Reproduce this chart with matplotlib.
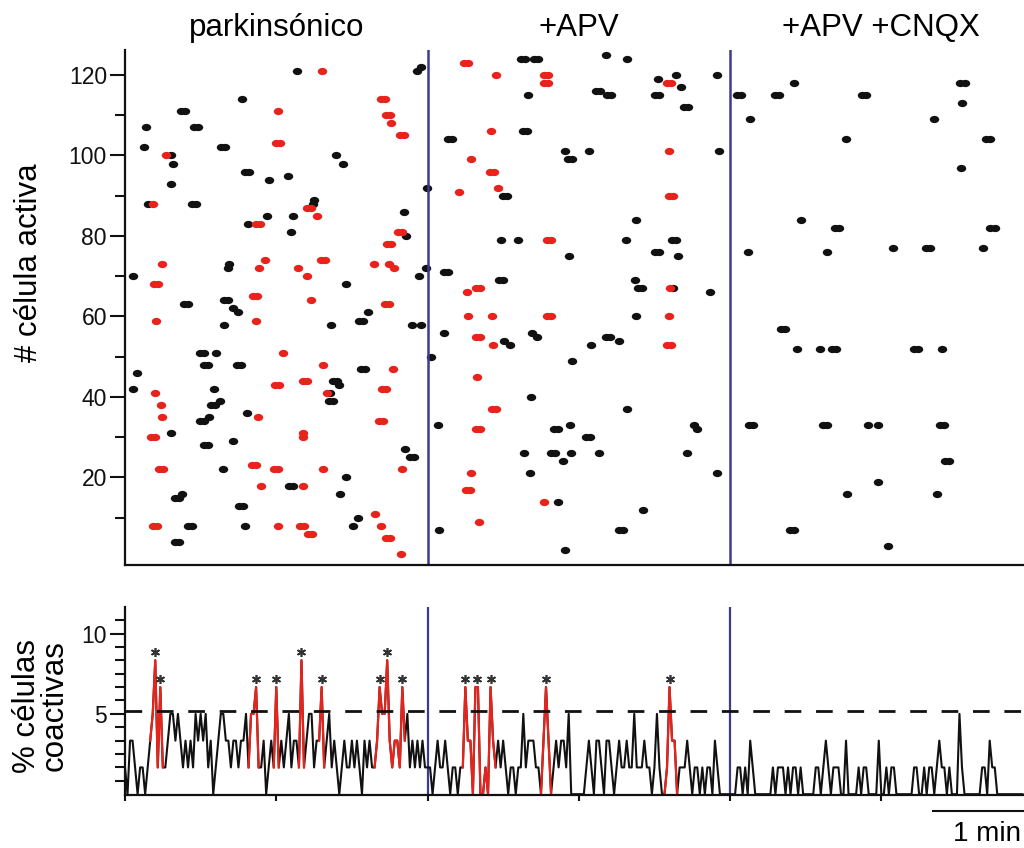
import matplotlib
matplotlib.use('Agg')
import matplotlib.pyplot as plt
import matplotlib.transforms as mtransforms
from matplotlib.path import Path
import numpy as np

plt.rcParams['font.family'] = ['Liberation Sans', 'DejaVu Sans']

# conditions and the times (s) where they change
conditions = ['parkinsónico', '+APV', '+APV +CNQX']
condition_centers = [60, 180, 300]
condition_changes = [120, 240]

# raster: (time in s, cell number); double dots are two consecutive events
black_spikes = [
    # parkinsonico
    (3.3, 70), (3.3, 42), (4.6, 46), (7.7, 102), (8.3, 107), (9.3, 88),
    (18.1, 100), (18.1, 93), (18.2, 31), (19.2, 98), (19.7, 15), (21.3, 15), (22.5, 16),
    (19.7, 4), (21.3, 4), (22.3, 111), (23.9, 111), (23.3, 63), (24.9, 63), (25.0, 8),
    (26.6, 8), (26.7, 88), (28.3, 88), (27.4, 107), (29.0, 107), (29.6, 51), (31.2, 51),
    (29.6, 34), (31.2, 34), (33.4, 35), (31.3, 48), (32.9, 48), (31.3, 28), (32.9, 28),
    (34.2, 38), (35.8, 38), (37.7, 39), (35.2, 42), (36.1, 51), (38.0, 102), (39.6, 102),
    (39.3, 64), (40.9, 64), (39.4, 58), (39.0, 22), (41.0, 72), (41.4, 73), (43.0, 62),
    (45.0, 61), (43.0, 29), (44.4, 48), (46.0, 48), (45.2, 13), (46.8, 13), (46.3, 114),
    (47.6, 8), (47.7, 96), (49.3, 96), (48.5, 36), (48.7, 83), (56.5, 85), (57.3, 94),
    (64.8, 95), (64.9, 18), (66.5, 18), (65.7, 81), (66.8, 85), (68.1, 121), (74.7, 88),
    (75.0, 89), (80.9, 39), (82.5, 39), (81.3, 41), (81.7, 58), (82.5, 44), (84.0, 44),
    (85.0, 43), (83.6, 100), (85.3, 16), (86.4, 98), (87.5, 68), (87.7, 20), (90.6, 8),
    (92.6, 10), (92.8, 59), (94.4, 59), (93.5, 47), (95.1, 47), (96.5, 61), (110.8, 86),
    (111.1, 27), (111.3, 80), (113.2, 25), (114.8, 25), (113.7, 58), (117.4, 58),
    (115.7, 121), (117.3, 122), (116.6, 70), (119.4, 72), (119.9, 92),
    # +APV
    (121.5, 50), (124.3, 33), (124.7, 7), (126.5, 56), (126.5, 71), (128.1, 71),
    (128.1, 104), (129.7, 104), (148.4, 69), (150.0, 69), (149.2, 79), (149.9, 90),
    (151.5, 90), (150.5, 54), (152.7, 53), (156.0, 79), (157.2, 124), (158.8, 124),
    (158.0, 106), (159.6, 106), (158.3, 26), (160.0, 115), (160.7, 21), (161.0, 40),
    (161.5, 56), (163.6, 55), (162.2, 124), (163.8, 124), (169.1, 26), (170.7, 26),
    (170.2, 32), (171.8, 32), (171.9, 14), (173.6, 24), (174.5, 101), (174.5, 2),
    (175.7, 99), (177.3, 99), (176.3, 75), (176.5, 33), (176.8, 26), (177.2, 49),
    (183.0, 30), (184.6, 30), (184.1, 101), (184.9, 53), (187.0, 116), (188.6, 116),
    (187.9, 26), (190.7, 55), (192.3, 55), (190.8, 125), (191.3, 115), (192.9, 115),
    (195.8, 7), (197.4, 7), (196.1, 54), (198.6, 79), (199.0, 124), (199.3, 37),
    (202.3, 69), (203.5, 67), (205.0, 67), (202.6, 84), (202.6, 60), (205.6, 12),
    (210.1, 76), (211.7, 76), (210.4, 115), (212.0, 115), (211.6, 119), (217.5, 67),
    (217.0, 79), (218.6, 79), (218.4, 120), (219.5, 75), (220.6, 117), (221.6, 112),
    (223.2, 112), (223.1, 26), (225.7, 33), (227.0, 32), (232.1, 66), (234.7, 120),
    (234.7, 21), (235.6, 101),
    # +APV +CNQX
    (242.8, 115), (244.4, 115), (247.1, 76), (247.9, 109), (247.7, 33), (249.3, 33),
    (258.0, 115), (259.6, 115), (260.2, 57), (261.8, 57), (263.7, 7), (265.3, 7),
    (265.4, 118), (266.7, 52), (268.0, 84), (275.6, 52), (276.8, 33), (278.4, 33),
    (278.4, 76), (280.5, 52), (282.1, 52), (281.8, 82), (283.4, 82), (285.9, 104),
    (286.2, 16), (292.4, 115), (294.0, 115), (294.7, 33), (298.7, 33), (298.8, 19),
    (302.8, 3), (304.7, 77), (313.1, 52), (314.7, 52), (317.7, 77), (319.3, 77),
    (320.9, 109), (322.2, 16), (323.4, 33), (325.0, 33), (324.2, 52), (325.4, 24),
    (327.0, 24), (331.4, 118), (333.0, 118), (331.9, 113), (331.5, 97), (340.4, 77),
    (341.5, 104), (343.1, 104), (343.3, 82), (344.9, 82),
]

# events that belong to significant coactivity peaks
red_spikes = [
    (10.4, 30), (12.0, 30), (11.0, 88), (11.1, 8), (12.7, 8), (11.5, 68), (13.1, 68),
    (12.0, 41), (12.3, 59), (13.5, 22), (15.1, 22), (14.3, 38), (14.6, 35), (14.8, 73),
    (16.3, 100), (50.4, 23), (52.0, 23), (50.8, 65), (52.4, 65), (51.8, 59), (52.1, 83),
    (53.7, 83), (52.6, 35), (53.0, 72), (53.8, 18), (55.4, 74), (59.0, 22), (60.6, 22),
    (59.4, 43), (61.0, 43), (60.0, 103), (61.6, 103), (60.8, 111), (60.8, 8), (62.6, 51),
    (68.8, 72), (69.5, 8), (71.1, 8), (70.5, 18), (70.6, 44), (72.2, 44), (70.7, 31),
    (70.7, 30), (72.1, 70), (72.3, 87), (73.9, 87), (72.6, 6), (74.2, 6), (73.8, 64),
    (76.3, 85), (77.6, 74), (79.2, 74), (78.0, 121), (78.7, 48), (78.7, 22), (80.0, 41),
    (98.9, 73), (99.2, 11), (100.8, 34), (102.4, 34), (101.6, 8), (101.7, 114),
    (103.3, 114), (101.9, 42), (103.5, 42), (103.0, 63), (104.6, 63), (103.4, 110),
    (105.0, 110), (103.4, 5), (105.0, 5), (103.9, 78), (105.5, 78), (104.9, 73),
    (106.7, 72), (105.5, 108), (106.4, 47), (108.3, 81), (109.9, 81), (109.2, 105),
    (110.8, 105), (109.5, 1), (109.7, 22),
    (132.5, 91), (134.3, 123), (135.9, 123), (135.1, 17), (136.7, 17), (135.5, 66),
    (135.9, 60), (137.1, 99), (137.3, 21), (139.1, 67), (140.7, 67), (139.1, 55),
    (140.7, 55), (139.1, 32), (140.7, 32), (139.5, 45), (140.3, 9), (144.7, 96),
    (146.3, 96), (145.1, 106), (145.5, 60), (146.1, 53), (145.6, 37), (147.2, 37),
    (147.2, 120), (147.8, 92), (166.2, 120), (167.8, 120), (166.2, 118), (167.8, 118),
    (166.2, 14), (167.4, 79), (169.0, 79), (167.5, 60), (169.1, 60), (214.8, 53),
    (216.4, 53), (215.1, 118), (216.7, 118), (215.6, 101), (215.6, 60), (215.7, 90),
    (217.3, 90), (216.2, 67),
]

# coactive cells per second (in steps of 100/60 %)
park_trace = [
    1, 0, 2, 2, 1, 0, 1, 1, 0, 1, 2, 3, 5, 1, 4, 1, 1, 2, 3, 3,
    2, 3, 2, 1, 2, 1, 2, 1, 3, 2, 3, 2, 3, 1, 2, 0, 1, 2, 3, 3,
    2, 2, 1, 2, 2, 1, 2, 2, 3, 1, 3, 3, 4, 1, 1, 2, 0, 1, 2, 1,
    4, 1, 2, 1, 2, 3, 1, 2, 2, 1, 5, 1, 2, 3, 3, 1, 2, 2, 4, 1,
    2, 3, 1, 2, 1, 0, 1, 2, 1, 1, 2, 1, 2, 1, 0, 2, 1, 2, 1, 1,
    2, 4, 3, 3, 5, 2, 1, 2, 2, 1, 4, 2, 3, 1, 2, 1, 2, 1, 2, 1,
]
apv_trace = [
    1, 1, 0, 1, 2, 1, 1, 2, 1, 0, 1, 1, 0, 1, 1, 4, 2, 2, 0, 4,
    4, 0, 0, 1, 0, 4, 2, 1, 2, 1, 2, 1, 0, 1, 1, 0, 1, 1, 3, 1,
    2, 2, 2, 1, 1, 0, 2, 4, 2, 0, 1, 2, 1, 2, 2, 1, 3, 0, 0, 0,
    0, 0, 0, 1, 2, 1, 0, 2, 2, 1, 0, 2, 2, 1, 0, 1, 2, 1, 1, 2,
    1, 1, 3, 1, 1, 1, 2, 1, 1, 0, 1, 3, 1, 0, 0, 1, 4, 2, 2, 0,
    1, 1, 1, 2, 1, 0, 1, 1, 0, 1, 0, 1, 1, 0, 2, 1, 0, 0, 0, 0,
]
cnqx_trace = [
    0, 0, 0, 1, 1, 0, 1, 0, 2, 1, 0, 0, 0, 0, 0, 0, 0, 1, 0, 1,
    1, 1, 0, 1, 0, 1, 1, 0, 1, 0, 0, 0, 0, 0, 1, 1, 0, 1, 2, 1,
    0, 1, 1, 1, 0, 0, 2, 0, 0, 0, 0, 1, 0, 1, 1, 0, 0, 0, 0, 2,
    0, 0, 1, 0, 1, 1, 0, 0, 0, 0, 0, 0, 0, 1, 1, 0, 0, 1, 0, 1,
    1, 0, 1, 2, 1, 1, 0, 1, 0, 0, 0, 3, 1, 0, 0, 0, 0, 0, 0, 0,
    1, 1, 0, 2, 1, 1, 0, 0, 0, 0, 0, 0, 0, 0, 0, 0, 0,
]
level_step = 100 / 60
threshold = 5.2
# time windows (s) of the significant peaks
peak_windows = [(10, 15), (49, 53), (59, 61), (69, 71), (77, 79), (99, 111),
                (134, 147), (165, 169), (214, 219)]

black = '#111111'
red = '#e8231c'
blue = '#3f3a8e'

fig = plt.figure(figsize=(10.24, 8.48), dpi=100)
ax1 = fig.add_axes([125 / 1024, 283 / 848, 899 / 1024, 515 / 848])
ax2 = fig.add_axes([125 / 1024, 53 / 848, 899 / 1024, 188 / 848])

# oval dot marker
oval = Path.unit_circle().transformed(mtransforms.Affine2D().scale(1.3, 1.0))

bt, bc = zip(*black_spikes)
rt, rc = zip(*red_spikes)
ax1.plot(bt, bc, linestyle='none', marker=oval, ms=6.8, color=black, mec='none')
ax1.plot(rt, rc, linestyle='none', marker=oval, ms=6.8, color=red, mec='none')
for x in condition_changes:
    ax1.axvline(x, color=blue, lw=1.8)
    ax2.axvline(x, color=blue, lw=1.6)

ax1.set_xlim(0, 356.6)
ax1.set_ylim(-1.74, 126.2)
ax1.set_xticks([])
ax1.set_yticks(np.arange(20, 121, 20))
ax1.set_yticks(np.arange(10, 111, 20), minor=True)

trans = mtransforms.blended_transform_factory(ax1.transData, fig.transFigure)
for name, xc in zip(conditions, condition_centers):
    ax1.text(xc, 0.9575, name, transform=trans, ha='center', va='baseline', fontsize=22.5)

fig.text(29 / 1024, 0.69, '# célula activa', rotation=90, ha='center', va='center',
         fontsize=22.5)

# coactivity trace
levels = np.array(park_trace + apv_trace + cnqx_trace)
pct = levels * level_step
t = np.arange(len(pct))
ax2.plot(t, pct, color=black, lw=1.5)
for a, b in peak_windows:
    ax2.plot(t[a:b + 1], pct[a:b + 1], color=red, lw=1.6)

# asterisks on every run above threshold
above = pct > threshold
i = 0
while i < len(pct):
    if above[i]:
        j = i
        while j + 1 < len(pct) and above[j + 1]:
            j += 1
        ax2.plot((t[i] + t[j]) / 2, pct[i:j + 1].max() + 0.5, linestyle='none',
                 marker=(6, 2, 0), ms=6.5, mew=1.2, color='#333333')
        i = j + 1
    else:
        i += 1

ax2.axhline(threshold, color=black, lw=2.0, linestyle=(0, (6.0, 5.3)))

ax2.set_xlim(0, 356.6)
ax2.set_ylim(-0.05, 11.65)
ax2.set_xticks(np.arange(0, 301, 60))
ax2.set_xticklabels([])
ax2.set_yticks([5, 10])
ax2.set_yticks([k * 100 / 120 for k in range(1, 14) if k not in (6, 12)], minor=True)

fig.text(41 / 1024, 0.168, '% células\ncoactivas', rotation=90, ha='center',
         va='center', fontsize=22.5, linespacing=0.9, multialignment='center')

# scale bar
ax2.plot([320.5, 380.5], [-1.05, -1.05], color=black, lw=1.5, clip_on=False)
fig.text(953 / 1024, 7 / 848, '1 min', ha='left', va='baseline', fontsize=20)

for ax in (ax1, ax2):
    for side in ('top', 'right'):
        ax.spines[side].set_visible(False)
    for side in ('left', 'bottom'):
        ax.spines[side].set_linewidth(1.6)
        ax.spines[side].set_color(black)
    ax.tick_params(axis='y', which='major', length=11, width=1.5, direction='out',
                   labelsize=16.5, pad=2, colors=black)
    ax.tick_params(axis='y', which='minor', length=7, width=1.5, direction='out', colors=black)
ax2.tick_params(axis='x', which='major', length=4, width=1.5, direction='out', colors=black)

fig.savefig('out.png', dpi=100)
